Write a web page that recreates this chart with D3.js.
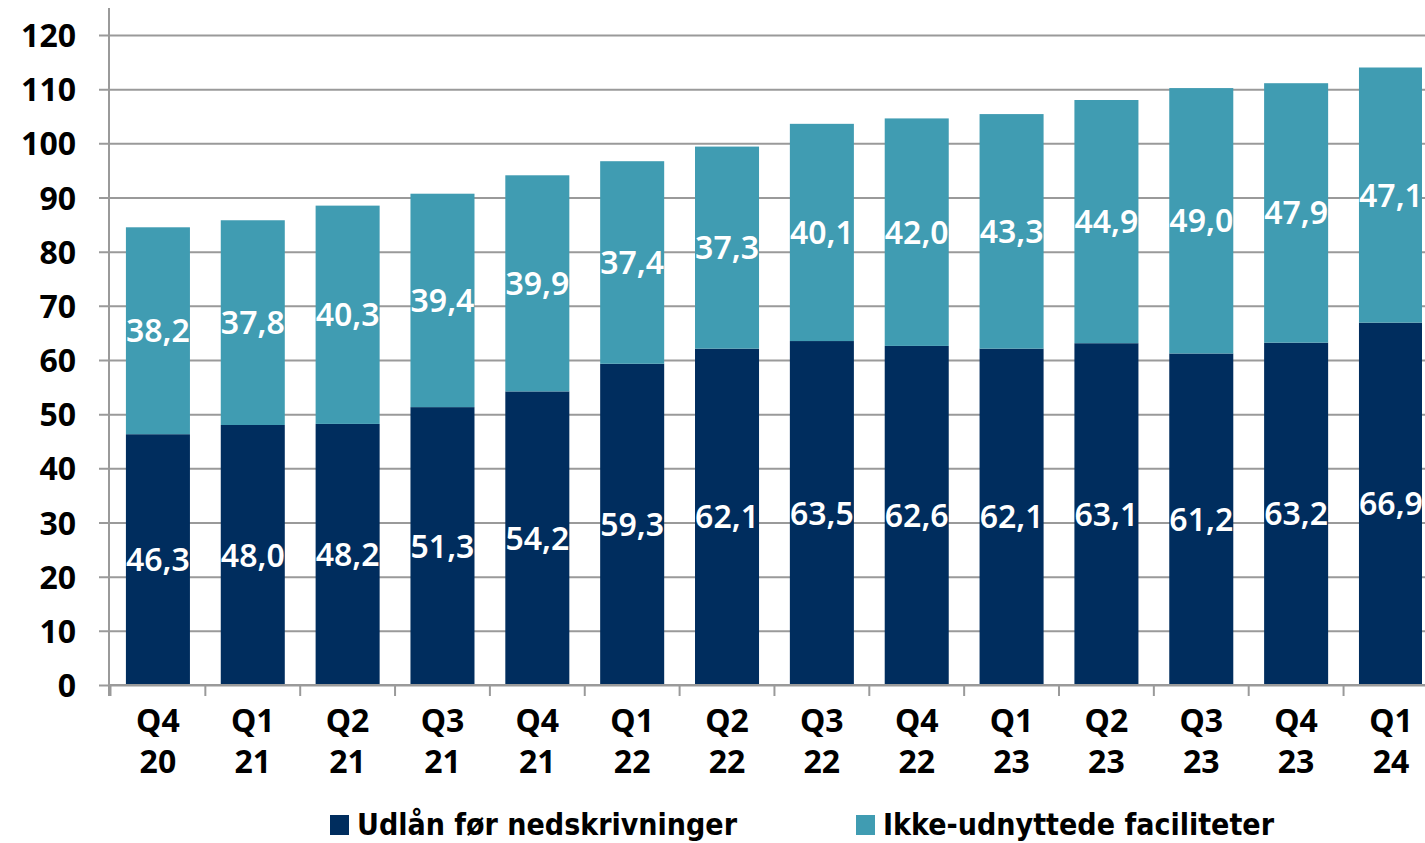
<!DOCTYPE html>
<html lang="da">
<head>
<meta charset="utf-8">
<title>Udlån og ikke-udnyttede faciliteter</title>
<script src="https://d3js.org/d3.v7.min.js"></script>
<style>
  html, body { margin: 0; padding: 0; background: #fff; }
  svg { display: block; }
</style>
</head>
<body>
<div id="chart"></div>
<script>
// quarters (two-line labels) and the two stacked series
var quarters = ["Q4 20", "Q1 21", "Q2 21", "Q3 21", "Q4 21", "Q1 22", "Q2 22",
                "Q3 22", "Q4 22", "Q1 23", "Q2 23", "Q3 23", "Q4 23", "Q1 24"];
var udlaan = [46.3, 48.0, 48.2, 51.3, 54.2, 59.3, 62.1, 63.5, 62.6, 62.1, 63.1, 61.2, 63.2, 66.9];
var ikkeUdnyttet = [38.2, 37.8, 40.3, 39.4, 39.9, 37.4, 37.3, 40.1, 42.0, 43.3, 44.9, 49.0, 47.9, 47.1];
var yTicks = [0, 10, 20, 30, 40, 50, 60, 70, 80, 90, 100, 110, 120];
var seriesNames = ["Udlån før nedskrivninger", "Ikke-udnyttede faciliteter"];
var colors = ["#002d5e", "#409cb2"];

var W = 1425, H = 843;
var plotLeft = 109, plotBottom = 685, plotTop = 35;
var step = 94.85;

var svg = d3.select("#chart").append("svg")
  .attr("width", W).attr("height", H);

var x = d3.scaleBand()
  .domain(quarters)
  .range([plotLeft + 1.5, plotLeft + 1.5 + step * quarters.length])
  .paddingInner(0.325)
  .paddingOuter(0.1625);

var y = d3.scaleLinear().domain([0, 120]).range([plotBottom, plotTop]);

// stacked data
var rows = quarters.map(function(q, i) {
  return { q: q, udlaan: udlaan[i], ikke: ikkeUdnyttet[i] };
});
var stack = d3.stack().keys(["udlaan", "ikke"])(rows);

// gridlines + y axis
var yAxis = svg.append("g")
  .attr("transform", "translate(" + plotLeft + ",0)")
  .call(d3.axisLeft(y).tickValues(yTicks).tickSize(-(W - plotLeft)).tickFormat(d3.format("d")));
yAxis.select(".domain").remove();
yAxis.selectAll(".tick line")
  .attr("x1", -10)
  .attr("stroke", "#9a9a9a")
  .attr("stroke-width", 2);
yAxis.selectAll(".tick text")
  .attr("x", -33)
  .attr("dy", "0.36em")
  .style("font-family", "'Noto Sans', sans-serif")
  .style("font-weight", "bold")
  .style("font-size", "32px")
  .attr("fill", "#000");

// vertical axis line
svg.append("line")
  .attr("x1", plotLeft).attr("x2", plotLeft)
  .attr("y1", 8).attr("y2", plotBottom + 11)
  .attr("stroke", "#9a9a9a").attr("stroke-width", 2);

// clip so the last bar is cut at the edge like the original
svg.append("clipPath").attr("id", "plotclip")
  .append("rect").attr("x", 0).attr("y", 0).attr("width", 1422).attr("height", H);

var plot = svg.append("g").attr("clip-path", "url(#plotclip)");

var layers = plot.selectAll("g.layer")
  .data(stack)
  .enter().append("g")
  .attr("class", "layer")
  .attr("fill", function(d, i) { return colors[i]; });

layers.selectAll("rect")
  .data(function(d) { return d; })
  .enter().append("rect")
  .attr("x", function(d) { return x(d.data.q); })
  .attr("y", function(d) { return y(d[1]); })
  .attr("width", x.bandwidth())
  .attr("height", function(d) { return y(d[0]) - y(d[1]); });

// value labels centred in each segment
layers.selectAll("text")
  .data(function(d) { return d; })
  .enter().append("text")
  .attr("x", function(d) { return x(d.data.q) + x.bandwidth() / 2; })
  .attr("y", function(d) { return y((d[0] + d[1]) / 2); })
  .attr("dy", "0.36em")
  .attr("text-anchor", "middle")
  .attr("fill", "#fff")
  .style("font-family", "'Noto Sans', sans-serif")
  .style("font-weight", "600")
  .style("font-size", "32px")
  .text(function(d) { return d3.format(".1f")(d[1] - d[0]).replace(".", ","); });

// x axis line and ticks
svg.append("line")
  .attr("x1", plotLeft).attr("x2", W)
  .attr("y1", plotBottom).attr("y2", plotBottom)
  .attr("stroke", "#9a9a9a").attr("stroke-width", 2);

var xAxis = svg.append("g");
xAxis.selectAll("line.xt")
  .data(quarters)
  .enter().append("line")
  .attr("class", "xt")
  .attr("x1", function(d) { return x(d) - x.step() * x.paddingInner() / 2; })
  .attr("x2", function(d) { return x(d) - x.step() * x.paddingInner() / 2; })
  .attr("y1", plotBottom).attr("y2", plotBottom + 11)
  .attr("stroke", "#9a9a9a").attr("stroke-width", 2);

var xl = xAxis.selectAll("text.xl")
  .data(quarters)
  .enter().append("text")
  .attr("class", "xl")
  .attr("text-anchor", "middle")
  .style("font-family", "'Noto Sans', sans-serif")
  .style("font-weight", "bold")
  .style("font-size", "32px")
  .attr("fill", "#000");
xl.append("tspan")
  .attr("x", function(d) { return x(d) + x.bandwidth() / 2; })
  .attr("y", 732)
  .text(function(d) { return d.split(" ")[0]; });
xl.append("tspan")
  .attr("x", function(d) { return x(d) + x.bandwidth() / 2; })
  .attr("y", 773)
  .text(function(d) { return d.split(" ")[1]; });

// legend
var legendX = [330, 856];
var legendW = [380, 391];
var legend = svg.selectAll("g.legend")
  .data(seriesNames)
  .enter().append("g")
  .attr("class", "legend")
  .attr("transform", function(d, i) { return "translate(" + legendX[i] + ",0)"; });
legend.append("rect")
  .attr("x", 0).attr("y", 815)
  .attr("width", 19).attr("height", 20)
  .attr("fill", function(d, i) { return colors[i]; });
legend.append("text")
  .attr("x", 27).attr("y", 835)
  .attr("textLength", function(d, i) { return legendW[i]; })
  .attr("lengthAdjust", "spacingAndGlyphs")
  .style("font-family", "'DejaVu Sans Condensed', 'DejaVu Sans', sans-serif")
  .style("font-weight", "bold")
  .style("font-size", "31px")
  .attr("fill", "#000")
  .text(function(d) { return d; });
</script>
</body>
</html>
